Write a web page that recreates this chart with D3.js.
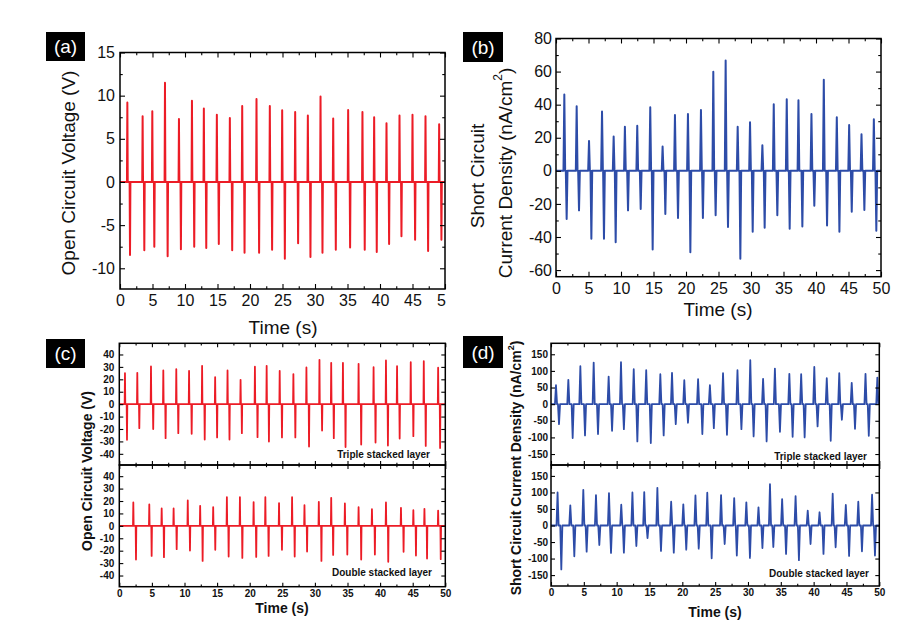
<!DOCTYPE html>
<html><head><meta charset="utf-8">
<script src="https://cdn.jsdelivr.net/npm/d3@7"></script>
<style>
body{margin:0;background:#fff;}
svg{display:block;font-family:"Liberation Sans",Arial,sans-serif;}
</style></head><body>
<svg id="c" width="920" height="623"></svg>
<script>
// ---------- DATA ----------
// (a) Open circuit voltage (V) – single layer
const aPosT = [1.13,3.48,4.97,6.92,9.07,11.07,12.9,14.9,16.9,18.8,21.0,23.05,24.95,26.95,28.9,30.85,32.8,35.1,37.3,39.1,41.0,43.0,45.0,47.0,49.1];
const aPosV = [9.2,7.6,8.2,11.5,7.3,9.4,8.5,7.8,7.4,8.8,9.6,8.8,8.3,8.1,7.7,9.9,7.35,8.35,8.1,7.5,6.8,7.7,7.8,7.6,6.7];
const aNegT = [1.54,3.74,5.28,7.33,9.37,11.42,13.27,15.2,17.26,19.16,21.4,23.4,25.36,27.4,29.3,31.15,33.2,35.4,37.65,39.5,41.4,43.3,45.4,47.4,49.45];
const aNegV = [-8.46,-7.9,-7.5,-8.6,-7.8,-7.5,-7.65,-7.2,-7.9,-8.2,-8.2,-7.85,-8.9,-7.1,-8.7,-8.2,-7.85,-7.6,-7.85,-8.1,-7.2,-6.3,-6.7,-8.0,-6.7];
const aXTicks = [0,5,10,15,20,25,30,35,40,45,50];
const aXLabels = ["0","5","10","15","20","25","30","35","40","45","5"];
const aYTicks = [-10,-5,0,5,10,15];

// (b) Short circuit current density (nA/cm2)
const bPosT = [1.28,3.18,5.08,7.08,8.87,10.6,12.5,14.5,16.4,18.3,20.3,22.3,24.2,26.1,27.95,29.85,31.75,33.5,35.5,37.3,39.3,41.2,43.2,45.1,47.0,48.9];
const bPosV = [46.2,39.0,18.1,35.8,20.7,26.7,27.3,38.4,14.7,33.8,34.4,36.8,59.9,66.7,26.7,29.3,15.5,40.2,43.2,42.6,34.4,55.1,32.4,27.7,22.1,31.2];
const bNegT = [1.64,3.54,5.44,7.38,9.18,11.08,13.03,14.87,16.82,18.77,20.67,22.6,24.56,26.46,28.36,30.26,32.1,34.05,35.95,37.9,39.74,41.7,43.6,45.5,47.44,49.28];
const bNegV = [-29.1,-23.9,-41.0,-41.0,-43.2,-23.9,-23.1,-47.6,-26.1,-28.5,-49.2,-28.5,-26.9,-34.0,-53.1,-36.8,-34.4,-26.9,-35.0,-33.6,-21.1,-33.0,-36.8,-24.7,-23.7,-36.2];
const bXTicks = [0,5,10,15,20,25,30,35,40,45,50];
const bYTicks = [-60,-40,-20,0,20,40,60,80];

// (c) Open circuit voltage – triple stacked layer
const cTPosT = [0.87,2.76,4.86,6.75,8.74,10.7,12.7,14.7,16.6,18.6,20.8,22.6,24.6,26.7,28.7,30.7,32.5,34.3,36.7,39.0,40.9,42.6,44.7,46.7,48.9];
const cTPosV = [25.0,25.2,30.3,27.1,28.2,26.8,30.9,21.7,27.1,19.6,30.1,30.9,26.8,24.2,29.5,35.7,33.3,33.3,32.5,29.8,35.2,30.6,33.8,34.6,29.3];
const cTNegT = [1.18,3.07,5.2,7.1,9.05,11.1,13.1,15.0,16.9,18.8,21.2,22.95,24.95,27.0,29.1,31.1,32.9,34.7,37.1,39.3,41.2,43.0,45.1,47.0,49.2];
const cTNegV = [-28.7,-19.3,-20.1,-27.4,-23.4,-23.9,-28.5,-26.8,-28.5,-23.4,-26.6,-30.1,-26.8,-26.8,-34.1,-21.2,-27.4,-34.6,-32.5,-30.9,-33.3,-27.7,-25.8,-33.6,-35.4];
// (c) Open circuit voltage – double stacked layer
const cDPosT = [2.15,4.6,6.5,8.33,10.5,12.4,14.4,16.5,18.5,20.6,22.4,24.5,26.5,28.4,30.6,32.5,34.6,36.7,38.75,40.9,43.2,45.1,46.8,48.9];
const cDPosV = [18.8,17.2,14.0,14.0,20.4,16.1,15.0,23.1,23.1,19.1,23.1,18.3,23.1,16.6,19.3,22.6,18.0,15.0,13.4,18.8,14.5,12.6,13.7,12.3];
const cDNegT = [2.56,4.96,6.85,8.8,10.84,12.78,14.72,16.77,18.87,21.0,22.9,24.95,26.9,28.8,31.0,32.8,34.97,37.1,39.2,41.25,43.6,45.5,47.2,49.3];
const cDNegV = [-27.1,-24.2,-25.2,-18.8,-19.9,-28.2,-19.3,-24.7,-25.8,-25.0,-24.2,-19.3,-24.7,-20.7,-28.2,-23.4,-23.1,-27.1,-23.1,-29.0,-20.9,-23.9,-26.3,-26.8];
const cXTicks = [0,5,10,15,20,25,30,35,40,45,50];
const cYTicks = [-40,-30,-20,-10,0,10,20,30,40];

// (d) Short circuit current density – triple stacked layer
const dTPosT = [0.76,2.64,4.47,6.5,8.78,10.66,12.6,14.5,16.65,18.43,20.3,22.4,24.2,26.2,28.4,30.35,32.3,34.1,36.3,38.1,40.1,42.0,43.9,45.8,47.9,49.7];
const dTPosV = [57,73,114,125,83,126,105,102,90,94,72,75,57,93,102,132,76,107,91,90,112,78,93,64,91,80];
const dTNegT = [1.22,3.3,5.18,7.16,9.3,11.1,13.15,15.2,17.16,19.0,20.86,23.05,24.8,26.8,29.0,30.86,32.84,34.87,36.8,38.63,40.6,42.6,44.3,46.3,48.4];
const dTNegV = [-60,-102,-94,-90,-80,-75,-112,-117,-94,-60,-56,-90,-72,-92,-75,-97,-112,-83,-98,-100,-67,-110,-47,-74,-95];
// (d) Short circuit current density – double stacked layer
const dDPosT = [1.0,2.94,4.92,6.85,8.83,10.7,12.4,14.2,16.2,18.3,20.15,22.0,23.8,25.9,27.9,29.75,31.6,33.35,35.2,37.25,39.1,40.9,42.9,44.9,46.8,48.9];
const dDPosV = [100,61,108,92,98,63,100,101,114,72,64,91,99,92,83,70,55,125,80,89,45,40,96,62,72,93];
const dDNegT = [1.57,3.55,5.43,7.36,9.14,11.1,13.0,14.7,16.75,18.7,20.6,22.5,24.47,26.45,28.3,30.3,32.2,33.86,35.8,37.76,39.53,41.5,43.35,45.4,47.36,49.34];
const dDNegV = [-133,-93,-79,-59,-83,-82,-62,-38,-77,-82,-73,-70,-99,-56,-91,-98,-68,-65,-86,-105,-56,-86,-66,-92,-78,-91];
const dXTicks = [0,5,10,15,20,25,30,35,40,45,50];
const dYTicks = [-150,-100,-50,0,50,100,150];

// ---------- DRAWING ----------
const RED = "#ec1c26", BLUE = "#2d4ca8";
const svg = d3.select("#c");
const FONT = '"Liberation Sans",Arial,sans-serif';

function wave(posT,posV,negT,negV,hw){
  const ev = posT.map((t,i)=>[t,posV[i]]).concat(negT.map((t,i)=>[t,negV[i]]));
  ev.sort((p,q)=>p[0]-q[0]);
  const pts=[[0,0]];
  ev.forEach(([t,v])=>{pts.push([t-hw,0],[t,v],[t+hw,0]);});
  pts.push([50,0]);
  return pts;
}

let clipId=0;
function panel(opt){
  const x = d3.scaleLinear().domain([0,50]).range([opt.l,opt.r]);
  const y = d3.scaleLinear().domain(opt.yDom).range([opt.b,opt.t]);
  const g = svg.append("g");
  const id = "clip"+(clipId++);
  g.append("clipPath").attr("id",id).append("rect")
    .attr("x",opt.l).attr("y",opt.t).attr("width",opt.r-opt.l).attr("height",opt.b-opt.t);
  const line = d3.line().x(d=>x(d[0])).y(d=>y(d[1]));
  g.append("path").datum(wave(opt.posT,opt.posV,opt.negT,opt.negV,opt.hw))
    .attr("clip-path",`url(#${id})`)
    .attr("fill","none").attr("stroke",opt.color).attr("stroke-width",opt.sw)
    .attr("stroke-linejoin","round").attr("d",line);

  const fs = opt.fs, fw = opt.fw;
  const style = sel=>{
    sel.select(".domain").remove();
    sel.selectAll("line").attr("stroke","#000").attr("stroke-width",1.1);
    sel.selectAll("text").attr("font-size",fs).attr("font-weight",fw).attr("fill","#111").attr("font-family",FONT);
  };
  const minorX = d3.range(0, 50.001, opt.xMinorStep).filter(v=>opt.xTicks.indexOf(v)<0);
  const yMin = opt.yMinor||[];
  const ax = d3.axisBottom(x).tickValues(opt.xTicks).tickSize(-opt.tick).tickPadding(opt.xPad)
    .tickFormat((d,i)=> opt.showX===false ? "" : (opt.xLabels? opt.xLabels[i] : d));
  g.append("g").attr("class","xb").attr("transform",`translate(0,${opt.b})`).call(ax).call(style);
  g.append("g").attr("transform",`translate(0,${opt.b})`)
    .call(d3.axisBottom(x).tickValues(minorX).tickSize(-opt.tick*0.55).tickFormat("")).call(style);
  g.append("g").attr("transform",`translate(0,${opt.t})`)
    .call(d3.axisTop(x).tickValues(opt.xTicks).tickSize(-opt.tick).tickFormat("")).call(style);
  g.append("g").attr("transform",`translate(0,${opt.t})`)
    .call(d3.axisTop(x).tickValues(minorX).tickSize(-opt.tick*0.55).tickFormat("")).call(style);
  g.append("g").attr("transform",`translate(${opt.l},0)`)
    .call(d3.axisLeft(y).tickValues(opt.yTicks).tickSize(-opt.tick).tickPadding(opt.yPad).tickFormat(d=>d)).call(style);
  g.append("g").attr("transform",`translate(${opt.l},0)`)
    .call(d3.axisLeft(y).tickValues(yMin).tickSize(-opt.tick*0.55).tickFormat("")).call(style);
  g.append("g").attr("transform",`translate(${opt.r},0)`)
    .call(d3.axisRight(y).tickValues(opt.yTicks).tickSize(-opt.tick).tickFormat("")).call(style);
  g.append("g").attr("transform",`translate(${opt.r},0)`)
    .call(d3.axisRight(y).tickValues(yMin).tickSize(-opt.tick*0.55).tickFormat("")).call(style);
  g.append("rect").attr("x",opt.l).attr("y",opt.t).attr("width",opt.r-opt.l).attr("height",opt.b-opt.t)
    .attr("fill","none").attr("stroke","#000").attr("stroke-width",1.5);
  return {g,x,y};
}

function labelBox(x,y,w,h,txt){
  svg.append("rect").attr("x",x).attr("y",y).attr("width",w).attr("height",h).attr("fill","#000");
  svg.append("text").attr("x",x+w/2).attr("y",y+h/2).attr("text-anchor","middle")
    .attr("dominant-baseline","central").attr("fill","#fff").attr("font-size",19)
    .attr("font-family",FONT).text(txt);
}

function text(x,y,s,size,weight,rot,anchor){
  return svg.append("text").attr("transform",`translate(${x},${y})`+(rot?` rotate(${rot})`:""))
    .attr("text-anchor",anchor||"middle").attr("dominant-baseline","central")
    .attr("font-size",size).attr("font-weight",weight||"normal").attr("fill","#111")
    .attr("font-family",FONT).text(s);
}

// ---- (a)
const pa = panel({l:120,r:445,t:52.5,b:289,yDom:[-12.4,15],posT:aPosT,posV:aPosV,negT:aNegT,negV:aNegV,hw:0.06,
  color:RED,sw:2,xTicks:aXTicks,xLabels:aXLabels,yTicks:aYTicks,yMinor:[-7.5,-2.5,2.5,7.5,12.5],xMinorStep:2.5,
  tick:5,fs:16,fw:"normal",xPad:6,yPad:5});
// last tick label is truncated "50" in the reference: shift it left a little
pa.g.select(".xb").selectAll(".tick").filter(d=>d===50).select("text").attr("dx",-4);
labelBox(46,32,39,29,"(a)");
text(68.5,173,"Open Circuit Voltage (V)",19,"normal",-90);
text(283,327,"Time (s)",19);

// ---- (b)
panel({l:556,r:881,t:38.5,b:276.7,yDom:[-64,80],posT:bPosT,posV:bPosV,negT:bNegT,negV:bNegV,hw:0.13,
  color:BLUE,sw:2,xTicks:bXTicks,yTicks:bYTicks,yMinor:[-50,-30,-10,10,30,50,70],xMinorStep:2.5,
  tick:5,fs:16,fw:"normal",xPad:6,yPad:4});
labelBox(463,32,40,30,"(b)");
text(477,176,"Short Circuit",19,"normal",-90);
const t2 = text(504.5,173,"",19,"normal",-90);
t2.append("tspan").text("Current Density (nA/cm");
t2.append("tspan").attr("baseline-shift","super").attr("font-size",12).text("2");
t2.append("tspan").text(")");
text(718,309,"Time (s)",19);

// ---- (c)
panel({l:119.3,r:445.3,t:343.3,b:465,yDom:[-49,49],posT:cTPosT,posV:cTPosV,negT:cTNegT,negV:cTNegV,hw:0.05,
  color:RED,sw:1.8,xTicks:cXTicks,yTicks:cYTicks,xMinorStep:2.5,showX:false,
  tick:4,fs:10,fw:"bold",xPad:3,yPad:5});
panel({l:119.3,r:445.3,t:465,b:586.7,yDom:[-49,49],posT:cDPosT,posV:cDPosV,negT:cDNegT,negV:cDNegV,hw:0.05,
  color:RED,sw:1.8,xTicks:cXTicks,yTicks:cYTicks,xMinorStep:2.5,
  tick:4,fs:10,fw:"bold",xPad:3,yPad:5});
labelBox(46,339,39,29,"(c)");
text(87,471,"Open Circuit Voltage (V)",14,"bold",-90);
text(282,608,"Time (s)",14,"bold");
text(430,454.5,"Triple stacked layer",10,"bold",0,"end");
text(432,572,"Double stacked layer",10,"bold",0,"end");

// ---- (d)
panel({l:551,r:879.3,t:343.3,b:465,yDom:[-183,183],posT:dTPosT,posV:dTPosV,negT:dTNegT,negV:dTNegV,hw:0.16,
  color:BLUE,sw:1.8,xTicks:dXTicks,yTicks:dYTicks,xMinorStep:2.5,showX:false,
  tick:4,fs:10,fw:"bold",xPad:3,yPad:3});
panel({l:551,r:879.3,t:465,b:586,yDom:[-183,183],posT:dDPosT,posV:dDPosV,negT:dDNegT,negV:dDNegV,hw:0.16,
  color:BLUE,sw:1.8,xTicks:dXTicks,yTicks:dYTicks,xMinorStep:2.5,
  tick:4,fs:10,fw:"bold",xPad:3,yPad:3});
labelBox(463,336,40,32,"(d)");
const t4 = text(516,468,"",14,"bold",-90);
t4.append("tspan").text("Short Circuit Current Density (nA/cm");
t4.append("tspan").attr("baseline-shift","super").attr("font-size",9).text("2");
t4.append("tspan").text(")");
text(715,612,"Time (s)",14,"bold");
text(867,456.7,"Triple stacked layer",10,"bold",0,"end");
text(869,573,"Double stacked layer",10,"bold",0,"end");
</script>
</body></html>
